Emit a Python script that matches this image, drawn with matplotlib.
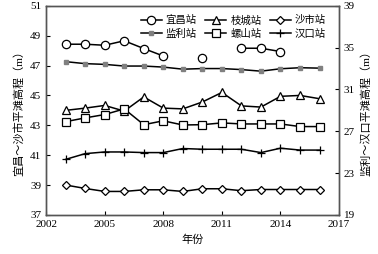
import numpy as np
import matplotlib
matplotlib.use('Agg')
import matplotlib.pyplot as plt

plt.rcParams['font.family'] = ['Liberation Serif', 'Noto Sans CJK SC']
plt.rcParams['font.size'] = 8

years = np.arange(2003, 2017)
nan = np.nan
# left axis: 宜昌~沙市
yichang = [48.43, 48.43, 48.36, 48.66, 48.14, 47.64, nan, 47.53, nan, 48.16, 48.16, 47.94, nan, nan]
zhicheng = [44.0, 44.15, 44.33, 43.95, 44.9, 44.15, 44.1, 44.56, 45.2, 44.3, 44.22, 44.94, 45.0, 44.78]
shashi = [39.0, 38.77, 38.57, 38.57, 38.68, 38.68, 38.57, 38.75, 38.75, 38.62, 38.7, 38.7, 38.7, 38.7]
# right axis: 监利~汉口
jianli = [33.66, 33.47, 33.4, 33.24, 33.24, 33.14, 32.94, 33.0, 33.0, 32.9, 32.75, 32.98, 33.08, 33.04]
luoshan = [27.92, 28.28, 28.6, 29.14, 27.63, 28.0, 27.6, 27.63, 27.8, 27.7, 27.7, 27.7, 27.45, 27.45]
hankou = [24.31, 24.86, 25.02, 25.02, 24.96, 24.96, 25.35, 25.28, 25.28, 25.28, 24.96, 25.38, 25.2, 25.2]

fig = plt.figure(figsize=(3.78, 2.54), dpi=100)
ax = fig.add_axes([0.122, 0.154, 0.775, 0.823])
ax2 = ax.twinx()

kw = dict(color='black', lw=1.1, mfc='white', mec='black', mew=0.9)
l1, = ax.plot(years, yichang, marker='o', ms=6, label='宜昌站', **kw)
l2, = ax.plot(years, zhicheng, marker='^', ms=6, label='枝城站', **kw)
l3, = ax.plot(years, shashi, marker='D', ms=4.5, label='沙市站', **kw)
l4, = ax2.plot(years, jianli, marker='s', ms=2.5, color='black', lw=1.1,
               mfc='gray', mec='gray', label='监利站')
l5, = ax2.plot(years, luoshan, marker='s', ms=5.5, label='螺山站', **kw)
l6, = ax2.plot(years, hankou, marker='+', ms=6, color='black', lw=1.1, mew=0.9, label='汉口站')

ax.set_xlim(2002, 2017)
ax.set_xticks([2002, 2005, 2008, 2011, 2014, 2017])
ax.set_ylim(37, 51)
ax.set_yticks(np.arange(37, 52, 2))
ax2.set_ylim(19, 39)
ax2.set_yticks(np.arange(19, 40, 4))

ax.set_xlabel('年份')
ax.set_ylabel('宜昌～沙市平滩高程（m）')
ax2.set_ylabel('监利～汉口平滩高程（m）')

for a in (ax, ax2):
    a.tick_params(direction='in', length=3, width=0.8)
    for s in a.spines.values():
        s.set_color('#555555')
        s.set_linewidth(1.0)

handles = [l1, l4, l2, l5, l3, l6]
ax2.legend(handles=handles, labels=[h.get_label() for h in handles], ncol=3,
           frameon=False, loc='upper right', bbox_to_anchor=(0.98, 0.99),
           handlelength=2.0, columnspacing=0.8, handletextpad=0.4,
           labelspacing=0.3, borderpad=0.2,
           prop={'family': ['Noto Sans CJK SC'], 'size': 7.5})

fig.savefig('out.png', dpi=100)
